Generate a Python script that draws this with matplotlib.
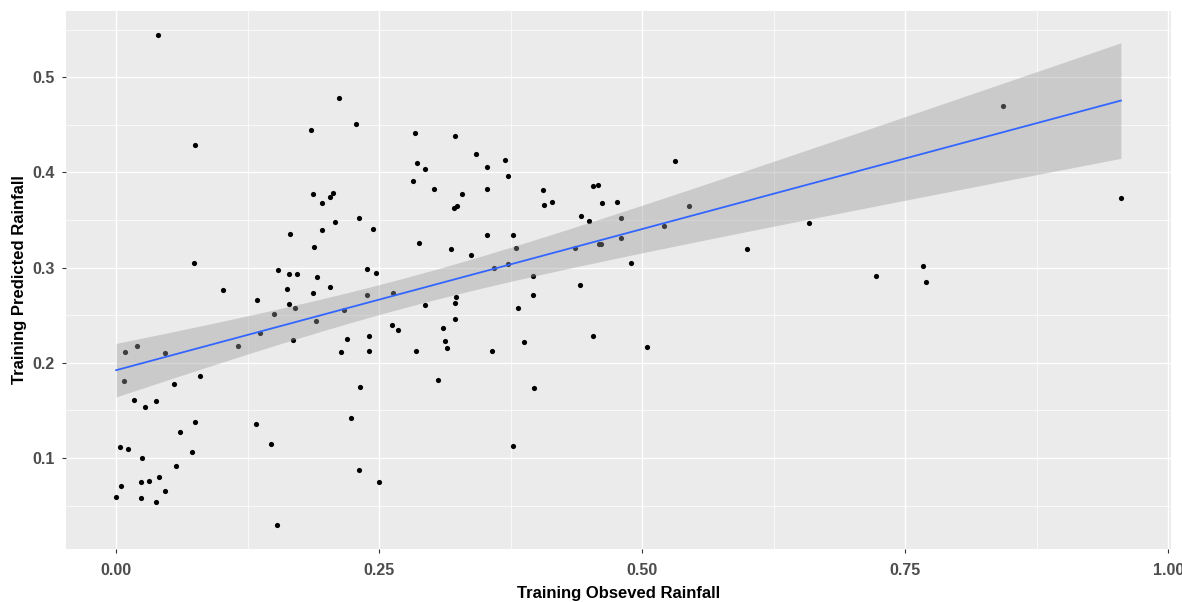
import matplotlib
matplotlib.use("Agg")
import matplotlib.pyplot as plt
import numpy as np
from matplotlib.ticker import MultipleLocator

plt.rcParams['font.family'] = ['Liberation Sans', 'DejaVu Sans']

obs_rain = [
    0.040, 0.075, 0.074, 0.212, 0.228, 0.185, 0.187, 0.206, 0.203, 0.196,
    0.231, 0.208, 0.196, 0.165, 0.188, 0.154, 0.164, 0.172, 0.191,
    0.102, 0.162, 0.203, 0.187, 0.134, 0.164, 0.170, 0.150, 0.217, 0.190,
    0.137, 0.168, 0.219, 0.214, 0.008, 0.020, 0.046, 0.116, 0.007, 0.055,
    0.080, 0.017, 0.027, 0.038, 0.232, 0.223, 0.075, 0.061, 0.133, 0.147,
    0.004, 0.011, 0.072, 0.025, 0.057, 0.231, 0.041, 0.024, 0.031, 0.005,
    0.046, 0.000, 0.024, 0.038, 0.153,
    0.284, 0.322, 0.342, 0.370, 0.286, 0.352, 0.294, 0.372, 0.282, 0.302,
    0.352, 0.329, 0.324, 0.321, 0.406, 0.407, 0.414, 0.453, 0.458, 0.462,
    0.476, 0.442, 0.449, 0.480, 0.244, 0.288, 0.352, 0.377, 0.318, 0.337,
    0.380, 0.436, 0.459, 0.461, 0.480, 0.489, 0.238, 0.247, 0.359, 0.372,
    0.396,
    0.441, 0.238, 0.263, 0.294, 0.323, 0.322, 0.396, 0.382, 0.322, 0.262,
    0.268, 0.311, 0.240, 0.313, 0.314, 0.388, 0.453, 0.240, 0.285, 0.357,
    0.306, 0.397, 0.377, 0.250,
    0.531, 0.544, 0.521, 0.600, 0.659, 0.505, 0.722, 0.767, 0.770, 0.843,
    0.955,
]
pred_rain = [
    0.544, 0.429, 0.305, 0.478, 0.451, 0.445, 0.377, 0.378, 0.374, 0.368,
    0.352, 0.348, 0.339, 0.335, 0.322, 0.297, 0.293, 0.293, 0.290,
    0.276, 0.277, 0.280, 0.273, 0.266, 0.262, 0.257, 0.251, 0.255, 0.244,
    0.231, 0.224, 0.225, 0.211, 0.211, 0.218, 0.210, 0.218, 0.181, 0.178,
    0.186, 0.161, 0.153, 0.160, 0.175, 0.142, 0.138, 0.127, 0.136, 0.115,
    0.112, 0.109, 0.106, 0.100, 0.092, 0.087, 0.080, 0.075, 0.076, 0.070,
    0.065, 0.059, 0.058, 0.054, 0.030,
    0.441, 0.438, 0.419, 0.413, 0.410, 0.406, 0.404, 0.396, 0.391, 0.383,
    0.383, 0.377, 0.365, 0.363, 0.381, 0.366, 0.369, 0.386, 0.387, 0.368,
    0.369, 0.354, 0.349, 0.352, 0.340, 0.326, 0.334, 0.334, 0.320, 0.313,
    0.321, 0.321, 0.325, 0.325, 0.331, 0.305, 0.299, 0.294, 0.300, 0.304,
    0.291,
    0.282, 0.271, 0.273, 0.261, 0.269, 0.263, 0.271, 0.258, 0.246, 0.240,
    0.234, 0.237, 0.228, 0.223, 0.215, 0.222, 0.228, 0.212, 0.212, 0.212,
    0.182, 0.173, 0.113, 0.075,
    0.412, 0.365, 0.344, 0.320, 0.347, 0.217, 0.291, 0.302, 0.285, 0.470,
    0.373,
]

x_ticks = [0.00, 0.25, 0.50, 0.75, 1.00]
x_tick_labels = ["0.00", "0.25", "0.50", "0.75", "1.00"]
y_ticks = [0.1, 0.2, 0.3, 0.4, 0.5]

x = np.array(obs_rain)
y = np.array(pred_rain)

# linear fit + 95% confidence band (like geom_smooth(method = "lm"))
n = len(x)
slope, intercept = np.polyfit(x, y, 1)
resid = y - (intercept + slope * x)
sigma = np.sqrt(np.sum(resid ** 2) / (n - 2))
sxx = np.sum((x - x.mean()) ** 2)
xs = np.linspace(x.min(), x.max(), 80)
fit = intercept + slope * xs
se = sigma * np.sqrt(1 / n + (xs - x.mean()) ** 2 / sxx)
t_val = 1.977

fig = plt.figure(figsize=(11.82, 6.02), dpi=100)
ax = fig.add_axes([0.0558, 0.088, 0.935, 0.894])
ax.set_facecolor('#EBEBEB')

ax.scatter(x, y, s=14, color='black', linewidths=0, zorder=3)
ax.fill_between(xs, fit - t_val * se, fit + t_val * se, color='#999999',
                alpha=0.4, linewidth=0, zorder=4)
ax.plot(xs, fit, color='#3366FF', linewidth=1.3, zorder=5)

xr = x.max() - x.min()
yr = y.max() - y.min()
ax.set_xlim(x.min() - 0.05 * xr, x.max() + 0.05 * xr)
ax.set_ylim(y.min() - 0.05 * yr, y.max() + 0.05 * yr)

ax.set_xticks(x_ticks)
ax.set_xticklabels(x_tick_labels)
ax.set_yticks(y_ticks)
ax.xaxis.set_minor_locator(MultipleLocator(0.125))
ax.yaxis.set_minor_locator(MultipleLocator(0.05))
ax.grid(which='major', color='white', linewidth=1.0)
ax.grid(which='minor', color='white', linewidth=0.5)
ax.set_axisbelow(True)
for s in ax.spines.values():
    s.set_visible(False)

ax.tick_params(which='major', length=3, width=0.8, color='#333333',
               labelsize=11.5, labelcolor='#4D4D4D')
ax.tick_params(axis='x', which='major', pad=7)
ax.tick_params(axis='y', which='major', pad=5)
ax.tick_params(which='minor', length=0)
for lab in ax.get_xticklabels() + ax.get_yticklabels():
    lab.set_fontweight('bold')

ax.set_xlabel('Training Obseved Rainfall', fontsize=12, fontweight='bold', labelpad=6)
ax.set_ylabel('Training Predicted Rainfall', fontsize=12, fontweight='bold', labelpad=4)

fig.savefig('out.png', dpi=100)
